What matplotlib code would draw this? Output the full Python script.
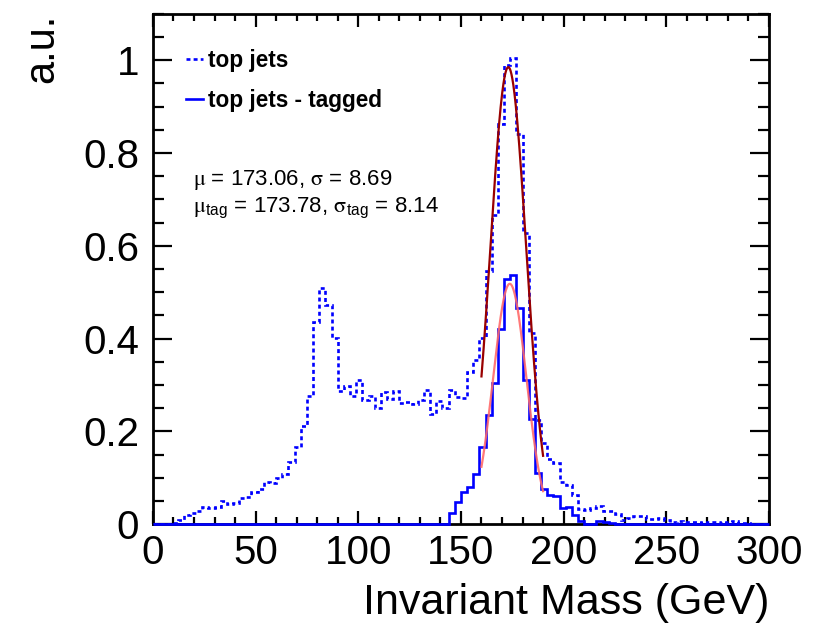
import numpy as np
import matplotlib
matplotlib.use('Agg')
import matplotlib.pyplot as plt
from matplotlib.lines import Line2D
from matplotlib.ticker import MultipleLocator

plt.rcParams['font.family'] = ['Liberation Sans', 'DejaVu Sans']
plt.rcParams['mathtext.fontset'] = 'stix'

# 100 bins of 3 GeV between 0 and 300 GeV
bin_edges = np.linspace(0, 300, 101)

# "top jets" (dashed), a.u.
top_jets = [
    0.000, 0.000, 0.000, 0.003, 0.008, 0.019, 0.024, 0.029, 0.036, 0.034,
    0.036, 0.050, 0.043, 0.046, 0.057, 0.058, 0.070, 0.076, 0.091, 0.089,
    0.100, 0.108, 0.135, 0.166, 0.212, 0.277, 0.436, 0.509, 0.473, 0.401,
    0.288, 0.297, 0.277, 0.311, 0.268, 0.276, 0.250, 0.285, 0.269, 0.288,
    0.261, 0.264, 0.258, 0.268, 0.289, 0.238, 0.266, 0.250, 0.289, 0.273,
    0.271, 0.327, 0.354, 0.402, 0.545, 0.667, 0.862, 0.989, 1.004, 0.840,
    0.628, 0.412, 0.225, 0.174, 0.140, 0.131, 0.091, 0.084, 0.062, 0.032,
    0.031, 0.034, 0.039, 0.029, 0.029, 0.022, 0.010, 0.013, 0.018, 0.018,
    0.012, 0.012, 0.014, 0.010, 0.005, 0.007, 0.005, 0.004, 0.004, 0.003,
    0.004, 0.004, 0.003, 0.005, 0.006, 0.003, 0.002, 0.000, 0.000, 0.000,
]

# "top jets - tagged" (solid), a.u.
top_jets_tagged = [
    0.0] * 48 + [
    0.024, 0.048,
    0.070, 0.081, 0.109, 0.167, 0.235, 0.305, 0.420, 0.528, 0.538, 0.466,
    0.310, 0.226, 0.111, 0.075, 0.062, 0.061, 0.034, 0.037, 0.019, 0.007,
    0.001, 0.001, 0.007, 0.004, 0.002,
] + [0.0] * 25

# gaussian fits: amplitude, mean, sigma, fit range
fit_all = [0.985, 173.06, 8.69]
fit_tag = [0.518, 173.78, 8.14]
fit_range = [160, 190]


def gauss(x, amp, mu, sigma):
    return amp * np.exp(-0.5 * ((x - mu) / sigma) ** 2)


fig = plt.figure(figsize=(8.22, 6.24), dpi=100)
ax = fig.add_axes([0.186, 0.160, 0.7495, 0.818])

blue = '#0000ff'
dash = (0, (1.5, 1.2))
ax.stairs(top_jets, bin_edges, color=blue, lw=1.9, linestyle=dash, zorder=3)
ax.stairs(top_jets_tagged, bin_edges, color=blue, lw=1.9, zorder=3.1, clip_on=False)

xf = np.linspace(fit_range[0], fit_range[1], 200)
ax.plot(xf, gauss(xf, *fit_tag), color='#ff6a6a', lw=1.6, alpha=0.9, zorder=3.2)
ax.plot(xf, gauss(xf, *fit_all), color='#990000', lw=1.6, zorder=3.3)

ax.set_xlim(0, 300)
ax.set_ylim(0, 1.1)

ax.xaxis.set_minor_locator(MultipleLocator(10))
ax.yaxis.set_minor_locator(MultipleLocator(0.05))
ax.set_xticks([0, 50, 100, 150, 200, 250, 300])
ax.set_xticklabels(['0', '50', '100', '150', '200', '250', '300'])
ax.set_yticks([0, 0.2, 0.4, 0.6, 0.8, 1.0])
ax.set_yticklabels(['0', '0.2', '0.4', '0.6', '0.8', '1'])

ax.tick_params(axis='both', which='both', direction='in', top=True, right=True,
               width=1.6, color='black')
ax.tick_params(axis='x', which='major', length=9.5, labelsize=29, pad=7)
ax.tick_params(axis='x', which='minor', length=5)
ax.tick_params(axis='y', which='major', length=14, labelsize=29, pad=10)
ax.tick_params(axis='y', which='minor', length=8)
for sp in ax.spines.values():
    sp.set_linewidth(2)

ax.set_xlabel('Invariant Mass (GeV)', fontsize=31, loc='right', labelpad=8)
ax.set_ylabel('a.u.', fontsize=30, loc='top', labelpad=15)

handles = [
    Line2D([], [], color=blue, lw=1.9, linestyle=dash),
    Line2D([], [], color=blue, lw=1.9),
]
ax.legend(handles, ['top jets', 'top jets - tagged'], loc='upper left',
          bbox_to_anchor=(0.02, 0.97), frameon=False, handlelength=0.75,
          handletextpad=0.25, labelspacing=0.75,
          prop={'weight': 'bold', 'size': 16.3})

ax.text(0.065, 0.674, r'$\mathrm{\mu}$ = 173.06, $\mathrm{\sigma}$ = 8.69',
        transform=ax.transAxes, fontsize=16, va='center', ha='left')
ax.text(0.065, 0.620,
        r'$\mathrm{\mu}_{\mathregular{tag}}$ = 173.78, '
        r'$\mathrm{\sigma}_{\mathregular{tag}}$ = 8.14',
        transform=ax.transAxes, fontsize=16, va='center', ha='left')

fig.savefig('out.png', dpi=100)
